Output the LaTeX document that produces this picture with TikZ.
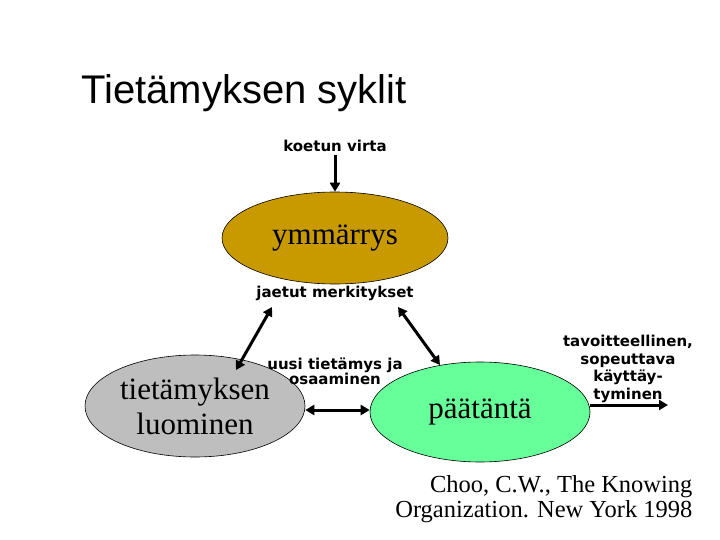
\documentclass[tikz,border=0pt]{standalone}
\usepackage{fontspec}
\setmainfont{Liberation Serif}
\newfontfamily\labelfont{DejaVu Sans}
\newfontfamily\titlefont{Liberation Sans}
\usetikzlibrary{shapes.geometric}
\usetikzlibrary{arrows.meta}
\definecolor{gold}{HTML}{C89A00}
\definecolor{mint}{HTML}{66FF99}
\definecolor{greyfill}{HTML}{BEBEBE}
\tikzset{
  cycle/.style={ellipse, draw=black, semithick, inner sep=0pt, align=center,
    font=\fontsize{31}{35}\selectfont},
  lbl/.style={align=center, font=\labelfont\bfseries\fontsize{15}{16}\selectfont},
  link/.style={line width=3pt, -{Triangle[length=9pt,width=10pt]}},
  both/.style={line width=3pt, {Triangle[length=9pt,width=10pt]}-{Triangle[length=9pt,width=10pt]}}
}
\begin{document}
\begin{tikzpicture}[x=1pt, y=-1pt]
            \useasboundingbox (0,0) rectangle (720,540);

            \node[font=\titlefont\fontsize{40}{42}\selectfont, anchor=west] (title) at (78,93) {Tietämyksen syklit};

            \node[lbl] (flow) at (335,146) {koetun virta};
            \node[cycle, fill=gold, minimum width=226, minimum height=92] (understand) at (335,238) {ymmärrys};
            \node[lbl] (shared) at (335,293) {jaetut merkitykset};

            \node[cycle, fill=greyfill, minimum width=220, minimum height=102] (create) at (195,406) {tietämyksen\\luominen};
            \node[cycle, fill=mint, minimum width=220, minimum height=100] (decide) at (480,412) {päätäntä};

            \node[lbl, font=\labelfont\bfseries\fontsize{15}{15}\selectfont] (newknow) at (335,371) {uusi tietämys ja\\osaaminen};
            \node[lbl, font=\labelfont\bfseries\fontsize{15}{17.5}\selectfont] (action) at (628,369) {tavoitteellinen,\\sopeuttava\\käyttäy-\\tyminen};

            \coordinate (out) at (668,405);
            \coordinate (la) at (236,370);
            \coordinate (lb) at (272,307);
            \coordinate (ra) at (398,307);
            \coordinate (rb) at (440,365);

            \draw[link] (flow.south) -- (understand.north);
            \draw[both] (la) -- (lb);
            \draw[both] (ra) -- (rb);
            \draw[both] (create.east |- 0,410) -- (decide.west |- 0,410);
            \draw[link] (decide.east |- 0,405) -- (out);

            \node[align=right, anchor=east, font=\fontsize{24.5}{25}\selectfont] (cite) at (696,499) {Choo, C.W., The Knowing\\Organization. New York 1998};
        \end{tikzpicture}
\end{document}
